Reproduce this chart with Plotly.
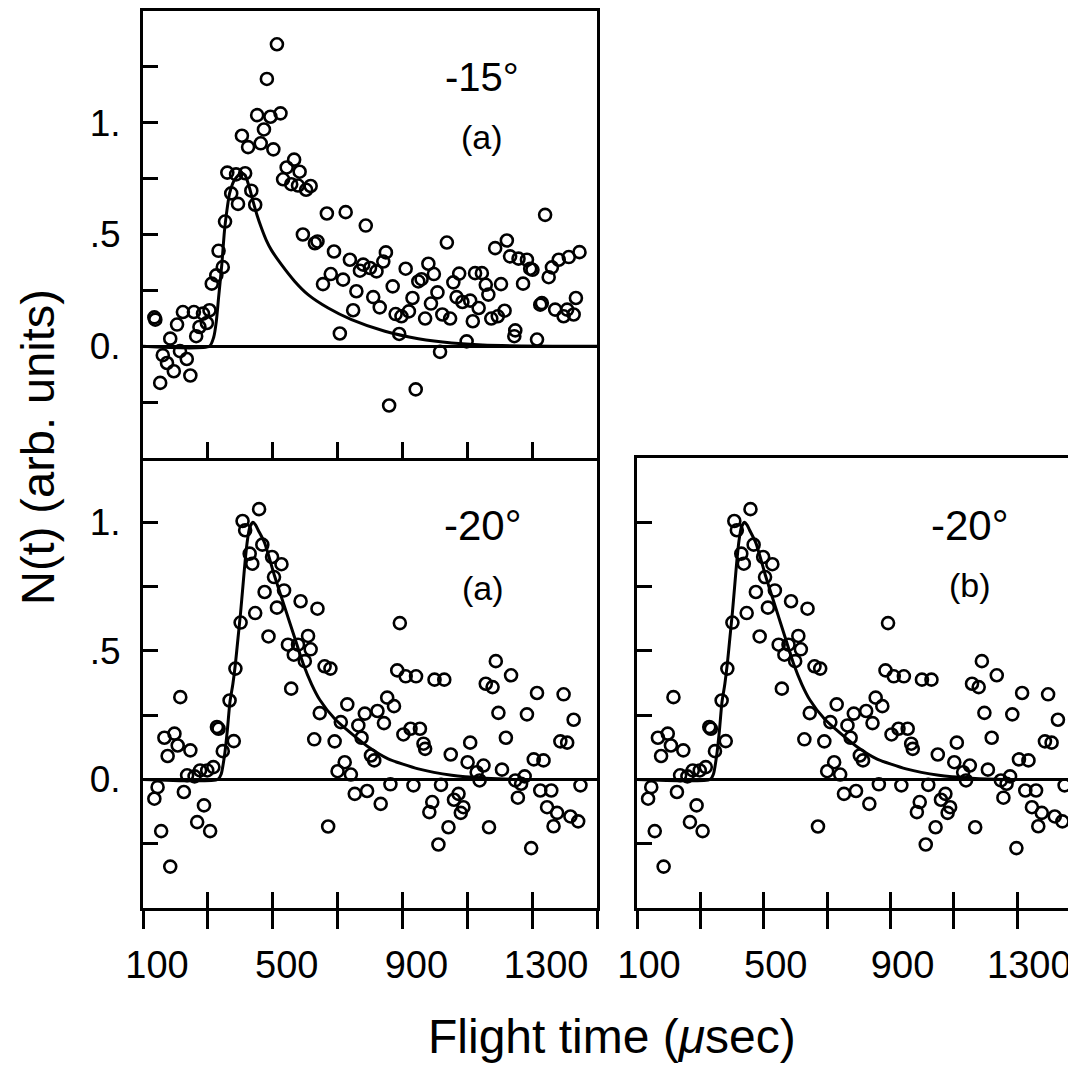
import plotly.graph_objects as go

# -15 deg (a): measured points
t15 = [513, 482, 452, 493, 524, 473, 405, 424, 463, 502, 566, 543, 583, 532, 557, 578, 603, 617,
       360, 387, 415, 372, 434, 393, 446, 353, 667, 725, 787, 1340,
       593, 630, 638, 689, 738, 779, 769, 800, 820, 841, 849, 679, 655, 717, 758, 810, 748, 830,
       910, 870, 980, 949, 959, 997, 1037, 1075, 1057, 1008, 931, 988, 920, 897, 879, 970, 1023, 1047,
       1067, 1085, 1109, 1135, 1117, 1124, 1145, 1157, 1165, 1204, 1186, 1222, 1232, 1258, 1284, 1294,
       1301, 1272, 1174, 1194, 1215, 1325, 1330, 1351, 1361, 1382, 1413, 1446, 1371, 1397, 1408, 1428,
       1435, 1248, 1245, 1315, 1098, 890, 707, 1016,
       135, 138, 205, 223, 257, 285, 305, 274, 297, 264, 184, 312, 326, 333, 346,
       161, 174, 195, 214, 235, 153, 246, 859, 941]
n15 = [1.351, 1.196, 1.034, 1.027, 1.042, 0.970, 0.942, 0.891, 0.908, 0.881, 0.835, 0.800, 0.781, 0.747, 0.725, 0.719, 0.700, 0.717,
       0.777, 0.769, 0.774, 0.684, 0.696, 0.637, 0.633, 0.558, 0.594, 0.600, 0.540, 0.588,
       0.500, 0.461, 0.469, 0.424, 0.387, 0.365, 0.338, 0.350, 0.335, 0.379, 0.420, 0.323, 0.278, 0.298, 0.246, 0.220, 0.161, 0.174,
       0.347, 0.268, 0.369, 0.290, 0.300, 0.323, 0.464, 0.325, 0.286, 0.241, 0.216, 0.191, 0.156, 0.134, 0.144, 0.124, 0.142, 0.124,
       0.220, 0.198, 0.204, 0.171, 0.112, 0.327, 0.327, 0.275, 0.231, 0.278, 0.439, 0.473, 0.402, 0.392, 0.387, 0.347,
       0.342, 0.280, 0.124, 0.134, 0.159, 0.186, 0.193, 0.309, 0.353, 0.387, 0.399, 0.421, 0.164, 0.134, 0.164, 0.142,
       0.216, 0.071, 0.045, 0.030, 0.022, 0.055, 0.057, -0.025,
       0.129, 0.119, 0.097, 0.153, 0.153, 0.146, 0.161, 0.086, 0.104, 0.045, 0.034, 0.280, 0.317, 0.427, 0.354,
       -0.040, -0.075, -0.112, -0.022, -0.057, -0.164, -0.131, -0.265, -0.193]

# -20 deg: measured points (same data in (a) and (b))
t20 = [458, 407, 415, 468, 429, 437, 498, 527, 504, 475, 535, 513, 586, 638, 446, 401, 487, 609, 547, 578,
       565, 617, 599, 660, 678, 385, 557, 892, 884, 910, 942, 999, 1029, 1188, 1235, 1157, 1178, 1315, 1397,
       215, 367, 1196, 1284, 1428, 645, 730, 710, 764, 784, 823, 853, 874, 843, 628, 691, 774, 903, 925, 954,
       965, 970, 1049, 1109, 1219, 1101, 1129, 1150, 1207, 1305, 1335, 1387, 1408, 1277, 1248, 1266, 1138,
       1449, 1256, 1325, 1359, 1346, 1377, 1366, 1418, 1442, 1297, 1167, 1011, 1042, 1073, 1059, 1088, 1080,
       1019, 992, 983, 934, 863, 833, 791, 753, 671, 700, 722, 741, 803, 813,
       166, 197, 207, 176, 246, 328, 333, 380, 346, 317, 298, 276, 259, 236, 145, 135, 226, 288, 267, 307, 156, 184]
n20 = [1.051, 1.005, 0.969, 0.913, 0.878, 0.839, 0.865, 0.837, 0.787, 0.729, 0.735, 0.668, 0.693, 0.664, 0.647, 0.610, 0.556, 0.558, 0.524, 0.524,
       0.485, 0.506, 0.460, 0.440, 0.431, 0.431, 0.353, 0.608, 0.424, 0.401, 0.401, 0.388, 0.388, 0.460, 0.405, 0.372, 0.359, 0.336, 0.331,
       0.320, 0.307, 0.259, 0.253, 0.232, 0.258, 0.292, 0.223, 0.210, 0.256, 0.266, 0.318, 0.285, 0.219, 0.156, 0.148, 0.162, 0.175, 0.197, 0.197,
       0.139, 0.119, 0.097, 0.143, 0.162, 0.067, 0.028, 0.054, 0.038, 0.078, 0.074, 0.148, 0.143, 0.012, -0.004, -0.017, -0.004,
       -0.023, -0.071, -0.043, -0.043, -0.108, -0.130, -0.182, -0.144, -0.163, -0.267, -0.186, -0.253, -0.186, -0.056, -0.079, -0.108, -0.130,
       -0.021, -0.088, -0.127, -0.023, -0.019, -0.095, -0.045, -0.056, -0.183, 0.032, 0.067, 0.019, 0.093, 0.074,
       0.162, 0.178, 0.132, 0.091, 0.113, 0.204, 0.197, 0.149, 0.110, 0.048, 0.035, 0.035, 0.012, 0.016, -0.030, -0.075, -0.049, -0.101, -0.166, -0.201, -0.201, -0.339]

# fitted curves
fit15_t = [100, 305, 318, 326, 333, 343, 351, 358, 367, 382, 403, 415, 428, 439, 452, 465, 480, 496, 527, 568,
           609, 671, 743, 846, 949, 1052, 1207, 1500]
fit15_n = [0, 0, 0.04, 0.11, 0.216, 0.365, 0.513, 0.6, 0.684, 0.744, 0.776, 0.765, 0.71, 0.65, 0.585, 0.53,
           0.475, 0.43, 0.365, 0.29, 0.231, 0.171, 0.119, 0.067, 0.034, 0.015, 0.003, 0]
fit20_t = [100, 331, 341, 351, 360, 368, 377, 385, 393, 401, 408, 415, 422, 429, 439, 447, 455, 475, 506, 537,
           568, 594, 620, 645, 691, 743, 795, 856, 949, 1052, 1155, 1260, 1500]
fit20_n = [0, 0, 0.02, 0.09, 0.19, 0.30, 0.37, 0.45, 0.55, 0.65, 0.75, 0.85, 0.93, 0.98, 1.0, 0.99, 0.97, 0.92,
           0.79, 0.67, 0.55, 0.45, 0.37, 0.31, 0.236, 0.178, 0.126, 0.08, 0.041, 0.016, 0.005, 0.0, 0]

panels = [("x", "y", t15, n15, fit15_t, fit15_n),
          ("x2", "y2", t20, n20, fit20_t, fit20_n),
          ("x3", "y3", t20, n20, fit20_t, fit20_n)]

FONT = "Liberation Sans, Arial, sans-serif"

fig = go.Figure()
for xa, ya, t, n, ft, fn in panels:
    fig.add_trace(go.Scatter(x=ft, y=fn, xaxis=xa, yaxis=ya, mode="lines",
                             line=dict(color="black", width=3, shape="spline", smoothing=0.6),
                             hoverinfo="skip", showlegend=False))
    fig.add_trace(go.Scatter(x=t, y=n, xaxis=xa, yaxis=ya, mode="markers",
                             marker=dict(symbol="circle-open", size=12, color="black",
                                         line=dict(width=2.6, color="black")),
                             showlegend=False))
# empty traces so the overlay tick axes get their own subplots
fig.add_trace(go.Scatter(x=[], y=[], xaxis="x4", yaxis="y2", showlegend=False))
fig.add_trace(go.Scatter(x=[], y=[], xaxis="x5", yaxis="y3", showlegend=False))

# the page body has an 8px margin, so the figure is sized to fit the window
OFF = 8
W, H = 1076 - OFF, 1078 - OFF

def fx(px):
    return (px - OFF) / W

def fy(py):
    return 1 - (py - OFF) / H

left_dom = [fx(143), fx(597)]
right_dom = [fx(637), 1.0]
top_dom = [fy(458), fy(11)]
bot_dom = [fy(908), fy(458)]

inner_ticks = [300, 500, 700, 900, 1100, 1300]
frame = dict(showline=True, linewidth=3, linecolor="black", showgrid=False, automargin=False)

def yax(dom, anchor, rng, vals, labels, mirror=True):
    return dict(domain=dom, anchor=anchor, range=rng, **frame,
                mirror=mirror, ticks="inside", ticklen=15, tickwidth=3, tickcolor="black",
                tickvals=vals, ticktext=labels, showticklabels=labels is not None,
                tickfont=dict(family=FONT, size=37, color="black"), ticklabelstandoff=12,
                zeroline=True, zerolinewidth=3, zerolinecolor="black")

xlab_vals = [100, 300, 500, 700, 900, 1100, 1300, 1500]
xlab_text = ["100", "", "500", "", "900", "", "1300", ""]
xlab_font = dict(family=FONT, size=38, color="black")

fig.update_layout(
    width=W, height=H,
    margin=dict(l=0, r=0, t=0, b=0, autoexpand=False),
    paper_bgcolor="white", plot_bgcolor="white",
    font=dict(family=FONT, color="black"),
    xaxis=dict(domain=left_dom, anchor="y", range=[100, 1500], **frame, zeroline=False, mirror=True,
               ticks="inside", ticklen=16, tickwidth=3, tickcolor="black",
               tickvals=inner_ticks, showticklabels=False),
    yaxis=yax(top_dom, "x", [-0.5, 1.5], [-0.25, 0, 0.25, 0.5, 0.75, 1, 1.25],
              ["", "0.", "", ".5", "", "1.", ""]),
    # top edge of this panel is the bottom line of the panel above
    xaxis2=dict(domain=left_dom, anchor="y2", range=[100, 1500], **frame, zeroline=False, mirror=False,
                ticks="outside", ticklen=18, tickwidth=3, tickcolor="black",
                tickvals=xlab_vals, ticktext=xlab_text, ticklabelshift=14, ticklabelstandoff=3,
                ticklabeloverflow="allow", tickfont=xlab_font),
    xaxis4=dict(overlaying="x2", anchor="y2", range=[100, 1500], showline=False, showgrid=False,
                zeroline=False, automargin=False, ticks="inside", ticklen=16, tickwidth=3,
                tickcolor="black", tickvals=inner_ticks, showticklabels=False),
    yaxis2=yax(bot_dom, "x2", [-0.5, 1.25], [-0.25, 0, 0.25, 0.5, 0.75, 1],
               ["", "0.", "", ".5", "", "1."]),
    xaxis3=dict(domain=right_dom, anchor="y3", range=[100, 1485], **frame, zeroline=False, mirror=True,
                ticks="outside", ticklen=18, tickwidth=3, tickcolor="black",
                tickvals=xlab_vals, ticktext=xlab_text, ticklabelshift=12, ticklabelstandoff=3,
                ticklabeloverflow="allow", tickfont=xlab_font),
    xaxis5=dict(overlaying="x3", anchor="y3", range=[100, 1485], showline=False, showgrid=False,
                zeroline=False, automargin=False, ticks="inside", ticklen=16, tickwidth=3,
                tickcolor="black", tickvals=inner_ticks, showticklabels=False),
    yaxis3=yax(bot_dom, "x3", [-0.5, 1.25], [-0.25, 0, 0.25, 0.5, 0.75, 1], None, mirror=False),
)

def px_note(text, x, y, size, angle=0):
    fig.add_annotation(text=text, x=fx(x), y=fy(y), xref="paper", yref="paper",
                       showarrow=False, textangle=angle, xanchor="center", yanchor="middle",
                       font=dict(family=FONT, size=size, color="black"))

px_note("-15°", 482, 77, 40)
px_note("(a)", 482, 137, 34)
px_note("-20°", 483, 525, 42)
px_note("(a)", 483, 588, 34)
px_note("-20°", 970, 525, 42)
px_note("(b)", 970, 585, 34)
px_note("N(t) (arb. units)", 37, 447, 47, angle=-90)
px_note("Flight time (<i>μ</i>sec)", 612, 1036, 48)

fig.write_html("out.html")
